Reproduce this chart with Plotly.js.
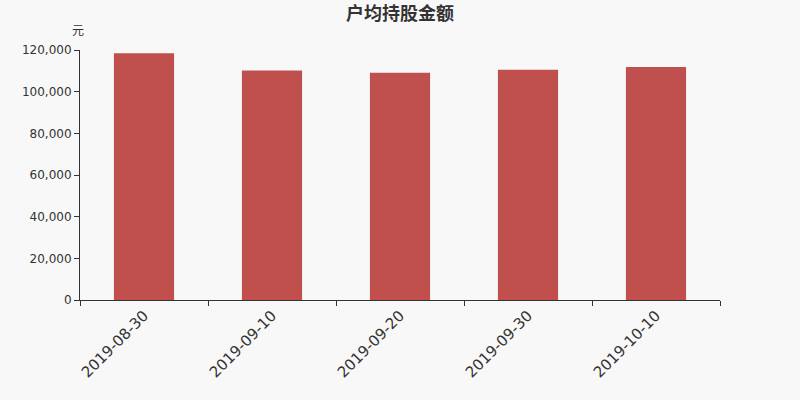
<!DOCTYPE html>
<html>
<head>
<meta charset="utf-8">
<script src="https://cdn.plot.ly/plotly-3.0.1.min.js"></script>
<style>
  html, body { margin: 0; padding: 0; background: #f8f8f8; }
  #chart { width: 800px; height: 400px; }
</style>
</head>
<body>
<div id="chart"></div>
<script>
// report dates and average holding value per account (yuan)
var dates = ['2019-08-30', '2019-09-10', '2019-09-20', '2019-09-30', '2019-10-10'];
var amounts = [118500, 110200, 109100, 110500, 111800];
var yTicks = [0, 20000, 40000, 60000, 80000, 100000, 120000];

var FONT = '"DejaVu Sans", "Noto Sans CJK SC", sans-serif';

var trace = {
  x: dates,
  y: amounts,
  type: 'bar',
  width: 0.47,
  marker: { color: '#c0504d' },
  hoverinfo: 'x+y'
};

var layout = {
  width: 800,
  height: 400,
  paper_bgcolor: '#f8f8f8',
  plot_bgcolor: '#f8f8f8',
  margin: { l: 80, r: 80, t: 50, b: 100, pad: 0 },
  showlegend: false,
  title: {
    text: '<b>户均持股金额</b>',
    font: { family: '"Noto Sans CJK SC", sans-serif', size: 18, color: '#333' },
    x: 0.5,
    xanchor: 'center',
    y: 0.965,
    yanchor: 'middle'
  },
  xaxis: {
    type: 'category',
    showline: true,
    linecolor: '#333',
    linewidth: 1,
    ticks: 'outside',
    tickson: 'boundaries',
    ticklen: 5,
    tickcolor: '#333',
    tickangle: -45,
    tickfont: { family: FONT, size: 15, color: '#333' },
    showgrid: false,
    zeroline: false
  },
  yaxis: {
    range: [0, 120000],
    tickvals: yTicks,
    ticktext: yTicks.map(function (v) { return v.toLocaleString('en-US'); }),
    showline: true,
    linecolor: '#333',
    linewidth: 1,
    ticks: 'outside',
    ticklen: 5,
    tickcolor: '#333',
    tickfont: { family: FONT, size: 12, color: '#333' },
    showgrid: false,
    zeroline: false
  },
  annotations: [{
    text: '元',
    xref: 'paper', yref: 'paper',
    x: 0, y: 1,
    xanchor: 'right', yanchor: 'bottom',
    xshift: 6, yshift: 10,
    showarrow: false,
    font: { family: FONT, size: 12, color: '#333' }
  }]
};

Plotly.newPlot('chart', [trace], layout, { displayModeBar: false, staticPlot: true });
</script>
</body>
</html>
